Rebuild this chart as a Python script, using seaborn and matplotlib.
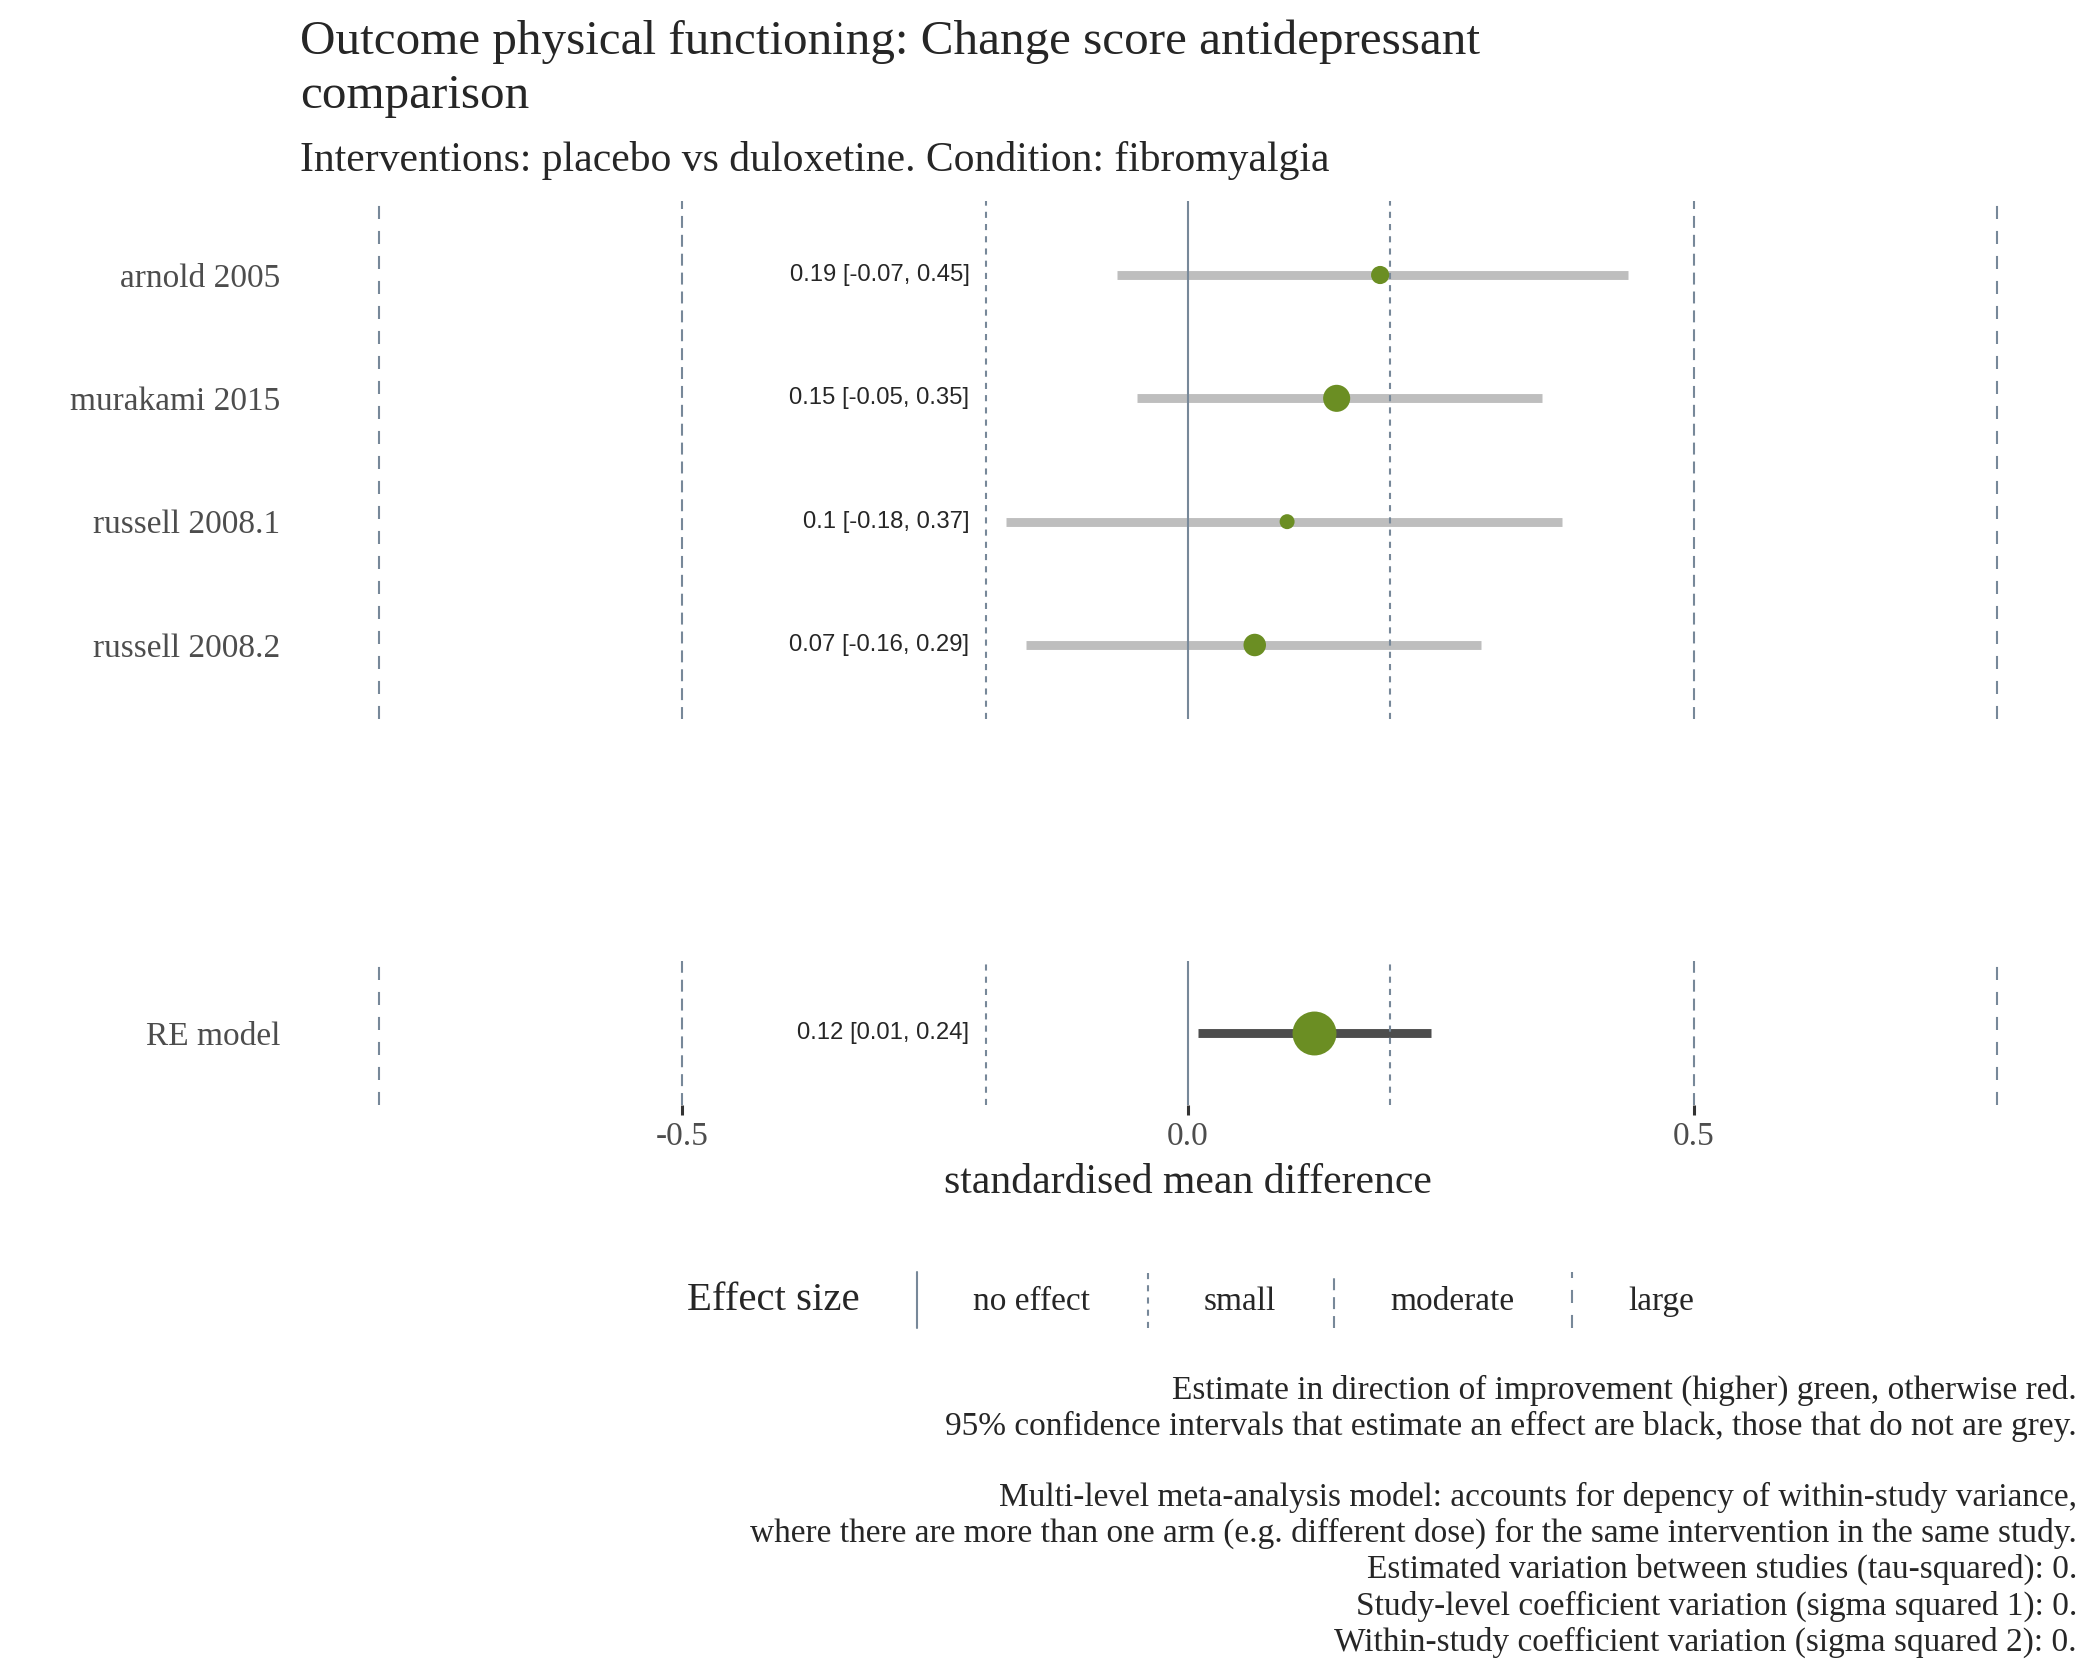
import matplotlib
matplotlib.use("Agg")
import matplotlib.pyplot as plt
from matplotlib.lines import Line2D
from matplotlib.legend_handler import HandlerBase
import numpy as np
import pandas as pd
import seaborn as sns

# data
studies = ["arnold 2005", "murakami 2015", "russell 2008.1", "russell 2008.2"]
smd = [0.19, 0.147, 0.098, 0.066]
ci_lo = [-0.07, -0.05, -0.18, -0.16]
ci_hi = [0.435, 0.35, 0.37, 0.29]
est_labels = ["0.19 [-0.07, 0.45]", "0.15 [-0.05, 0.35]", "0.1 [-0.18, 0.37]",
              "0.07 [-0.16, 0.29]"]

pooled_label = "RE model"
pooled_smd = 0.125
pooled_lo = 0.01
pooled_hi = 0.24
pooled_text = "0.12 [0.01, 0.24]"

effect_levels = [0.0, 0.2, 0.5, 0.8]
effect_names = ["no effect", "small", "moderate", "large"]

title = "Outcome physical functioning: Change score antidepressant\ncomparison"
subtitle = "Interventions: placebo vs duloxetine. Condition: fibromyalgia"
caption_lines = [
    "Estimate in direction of improvement (higher) green, otherwise red.",
    "95% confidence intervals that estimate an effect are black, those that do not are grey.",
    "",
    "Multi-level meta-analysis model: accounts for depency of within-study variance,",
    "where there are more than one arm (e.g. different dose) for the same intervention in the same study.",
    "Estimated variation between studies (tau-squared): 0.",
    "Study-level coefficient variation (sigma squared 1): 0.",
    "Within-study coefficient variation (sigma squared 2): 0.",
]

sns.set_theme(style="white")
plt.rcParams["font.family"] = ["Liberation Serif", "DejaVu Serif"]
plt.rcParams["lines.scale_dashes"] = False

GREEN = "#6b8e23"
RED = "#b22222"
VCOL = "#778899"
LIGHT_CI = "#bebebe"
DARK_CI = "#4d4d4d"
SANS = ["Liberation Sans", "DejaVu Sans"]
styles = ["-", (0, (2.2, 2.2)), (0, (4.3, 2.5)), (0, (4.7, 4.3))]

df = pd.DataFrame({"study": studies, "smd": smd, "lo": ci_lo, "hi": ci_hi,
                   "label": est_labels})
df["se"] = (df["hi"] - df["lo"]) / 3.92
df["weight"] = 1 / df["se"] ** 2

pooled = pd.DataFrame({"study": [pooled_label], "smd": [pooled_smd],
                       "lo": [pooled_lo], "hi": [pooled_hi], "label": [pooled_text]})


def ci_colour(lo, hi):
    return DARK_CI if (lo > 0 or hi < 0) else LIGHT_CI


def draw_refs(ax):
    for lev, ls in zip(effect_levels, styles):
        xs = [lev] if lev == 0 else [-lev, lev]
        for x in xs:
            ax.axvline(x, color=VCOL, lw=0.75, linestyle=ls, zorder=2.5)


XMAX = 0.888
fig = plt.figure(figsize=(10.5, 8.4), dpi=200)
ax_top = fig.add_axes([290 / 2100, 1 - 719 / 1680, (2086 - 290) / 2100, 518 / 1680])
ax_bot = fig.add_axes([290 / 2100, 1 - 1105 / 1680, (2086 - 290) / 2100, 144 / 1680])

# study rows
for _, r in df.iterrows():
    ax_top.hlines(r.study, r.lo, r.hi, color=ci_colour(r.lo, r.hi), lw=3.2, zorder=2)
sns.scatterplot(data=df, x="smd", y="study", size="weight", sizes=(29, 95),
                color=GREEN, linewidth=0, legend=False, ax=ax_top, zorder=3)
for _, r in df.iterrows():
    ax_top.text(-0.216, r.study, r.label, ha="right", va="center",
                fontsize=8.6, family=SANS)
draw_refs(ax_top)
ax_top.set_ylim(len(studies) - 0.4, -0.6)

# pooled row
for _, r in pooled.iterrows():
    ax_bot.hlines(r.study, r.lo, r.hi, color=ci_colour(r.lo, r.hi), lw=3.2, zorder=2)
    ax_bot.text(-0.216, r.study, r.label, ha="right", va="center",
                fontsize=8.6, family=SANS)
sns.scatterplot(data=pooled, x="smd", y="study", s=250, color=GREEN,
                linewidth=0, legend=False, ax=ax_bot, zorder=3)
draw_refs(ax_bot)
ax_bot.set_ylim(0.6, -0.6)

for ax in (ax_top, ax_bot):
    ax.set_xlim(-XMAX, XMAX)
    sns.despine(ax=ax, left=True, bottom=True)
    ax.set_ylabel("")
    ax.set_xlabel("")
    ax.tick_params(axis="y", length=0, pad=3.6, labelsize=12, labelcolor="#4d4d4d")
    ax.grid(False)

ax_top.tick_params(axis="x", length=0, labelbottom=False)
ax_bot.set_xticks([-0.5, 0.0, 0.5])
ax_bot.set_xticklabels(["-0.5", "0.0", "0.5"])
ax_bot.tick_params(axis="x", length=3.6, width=1.1, color="#333333", pad=2.5,
                   labelsize=12, labelcolor="#4d4d4d", bottom=True)
ax_bot.set_xlabel("standardised mean difference", fontsize=15, labelpad=4)

# titles
fig.text(300 / 2100, 1 - 19 / 1680, title, ha="left", va="top", fontsize=17.7,
         linespacing=1.3)
fig.text(300 / 2100, 1 - 161 / 1680, subtitle, ha="left", va="center", fontsize=15)


# effect size legend with vertical keys
class VLineHandler(HandlerBase):
    def create_artists(self, legend, orig_handle, xdescent, ydescent, width,
                       height, fontsize, trans):
        x = width / 2 - xdescent
        ln = Line2D([x, x], [-ydescent, height - ydescent])
        self.update_prop(ln, orig_handle, legend)
        ln.set_transform(trans)
        return [ln]


handles = [Line2D([], [], color=VCOL, lw=0.75, linestyle=ls) for ls in styles]
fig.legend(handles, effect_names, loc="center left",
           bbox_to_anchor=(900 / 2100, 1 - 1300 / 1680), ncol=4, frameon=False,
           fontsize=12, handlelength=1.0, handleheight=2.2, handletextpad=1.18,
           columnspacing=1.24, borderpad=0, borderaxespad=0,
           handler_map={Line2D: VLineHandler()})
fig.text(687 / 2100, 1 - 1300 / 1680, "Effect size", ha="left", va="center",
         fontsize=14.7)

fig.text(2077 / 2100, 1 - 1375 / 1680, "\n".join(caption_lines), ha="right",
         va="top", fontsize=12, linespacing=1.2)

fig.savefig("out.png", dpi=200)
